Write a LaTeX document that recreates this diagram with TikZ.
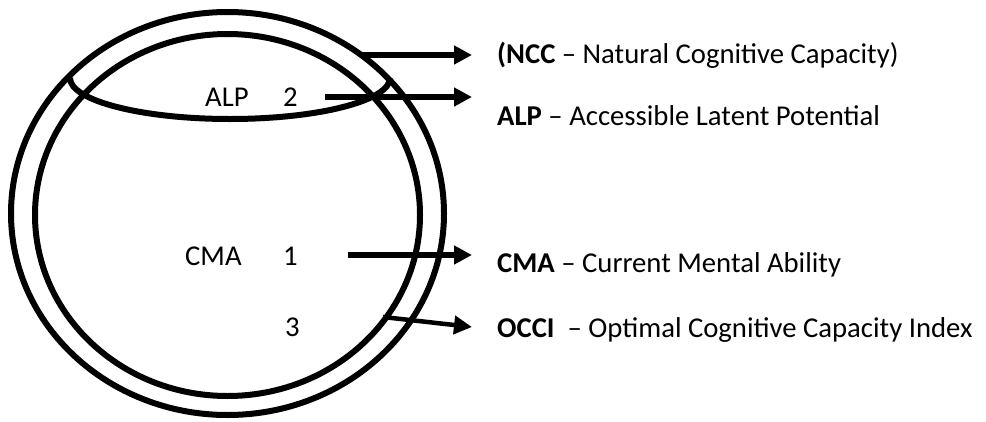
\documentclass[tikz,border=0pt]{standalone}
\usepackage{fontspec}
\setmainfont{Carlito}
\usetikzlibrary{arrows.meta}
\begin{document}
\begin{tikzpicture}[x=1pt,y=-1pt,
  ring/.style={line width=6pt},
  conn/.style={line width=5.5pt,-{Triangle[length=18pt,width=18pt]}},
  lbl/.style={font=\fontsize{28.7}{34}\selectfont, inner sep=0pt, anchor=base west}]
\useasboundingbox (0,0) rectangle (986,421);
% rings
\draw[ring] (227.5,213.5) ellipse [x radius=216.5, y radius=201.5];
\draw[ring] (227.5,215) ellipse [x radius=192.5, y radius=181];
\draw[ring] (70,78) arc [start angle=180, end angle=0, x radius=160, y radius=41];
% inner labels
\node[lbl] (alpin) at (205,106) {ALP};
\node[lbl] (two) at (283,106) {2};
\node[lbl] (cmain) at (185,265) {CMA};
\node[lbl] (one) at (283,265) {1};
\node[lbl] (three) at (285,336) {3};
% legend
\node[lbl] (ncc) at (497,63) {\textbf{(NCC} – Natural Cognitive Capacity)};
\node[lbl] (alp) at (497,125) {\textbf{ALP} – Accessible Latent Potential};
\node[lbl] (cma) at (497,272) {\textbf{CMA} – Current Mental Ability};
\node[lbl] (occi) at (497,337) {\textbf{OCCI}\ \ – Optimal Cognitive Capacity Index};
% connectors
\coordinate (s1) at (360,55); \coordinate (e1) at (472,55);
\coordinate (s2) at (325,97); \coordinate (e2) at (472,97);
\coordinate (s3) at (348,255); \coordinate (e3) at (472,255);
\coordinate (s4) at (383,317); \coordinate (e4) at (472,327);
\draw[conn] (s1) -- (e1);
\draw[conn] (s2) -- (e2);
\draw[conn] (s3) -- (e3);
\draw[conn, line width=4.5pt] (s4) -- (e4);
\end{tikzpicture}
\end{document}
